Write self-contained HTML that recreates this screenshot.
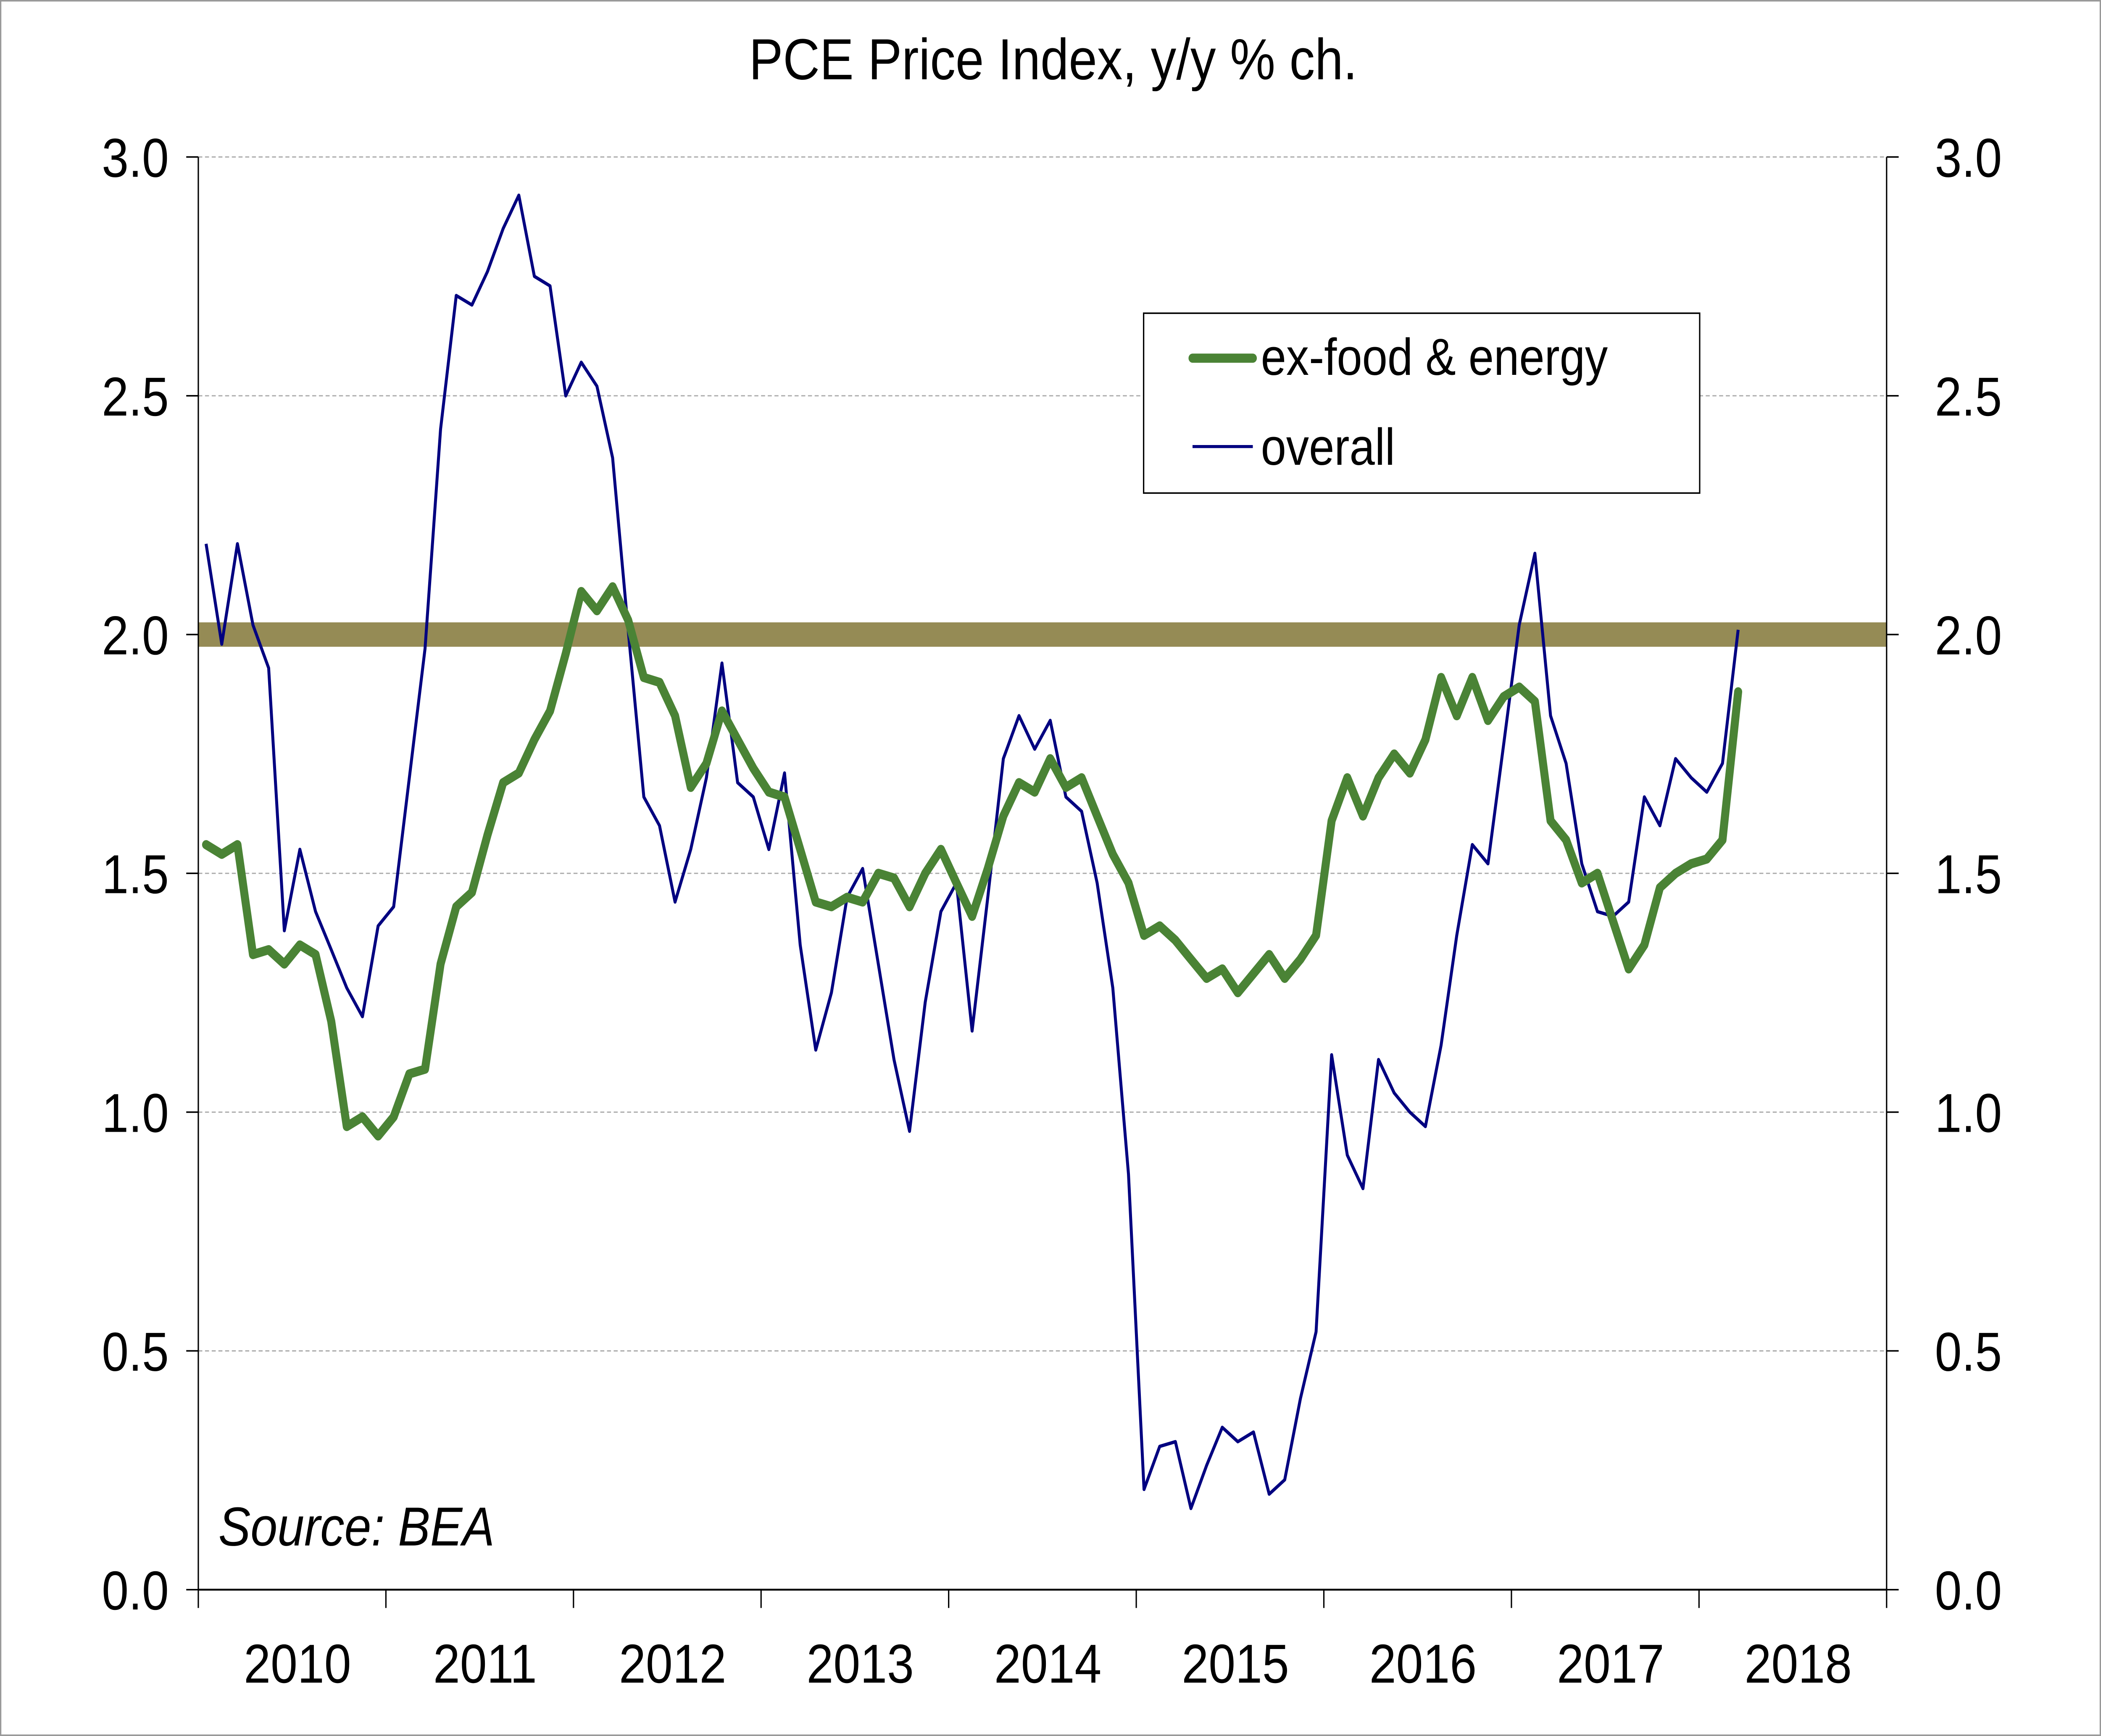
<!DOCTYPE html>
<html><head><meta charset="utf-8"><style>html,body{margin:0;padding:0;background:#fff;overflow:hidden;width:100%;height:100%}svg{display:block;width:100vw;height:100vh}</style></head>
<body>
<svg id="chart" viewBox="0 0 1568 1139" preserveAspectRatio="none" xmlns="http://www.w3.org/2000/svg" font-family="Liberation Sans, sans-serif">
<rect x="0.5" y="0.5" width="1567" height="1138" fill="#fff" stroke="#999" stroke-width="1"/>
<text x="786" y="52" font-size="38" text-anchor="middle">PCE Price Index, y/y % ch.</text>
<g id="grid"></g>
<rect id="target" fill="#958B55"/>
<g id="axes"></g>
<polyline id="overall" fill="none" stroke="#000080" stroke-width="2.2" stroke-linejoin="round"/>
<polyline id="core" fill="none" stroke="#4A8335" stroke-width="6" stroke-linejoin="round" stroke-linecap="round"/>
<g>
<rect x="853.5" y="205.5" width="415" height="118" fill="#fff" stroke="#000" stroke-width="1"/>
<line x1="890" y1="235" x2="935" y2="235" stroke="#4A8335" stroke-width="6" stroke-linecap="round"/>
<text x="941" y="246" font-size="34">ex-food &amp; energy</text>
<line x1="890" y1="293" x2="935" y2="293" stroke="#000080" stroke-width="2"/>
<text x="941" y="305" font-size="34">overall</text>
</g>
<text x="163" y="1014" font-size="36" font-style="italic">Source: BEA</text>
</svg>
<script>
const yTicks=[0,0.5,1.0,1.5,2.0,2.5,3.0];
const yTickLabels=["0.0","0.5","1.0","1.5","2.0","2.5","3.0"];
const years=["2010","2011","2012","2013","2014","2015","2016","2017","2018"];
const targetValue=2.0;
const overall=[2.19,1.98,2.19,2.02,1.93,1.38,1.55,1.42,1.34,1.26,1.20,1.39,
1.43,1.70,1.97,2.43,2.71,2.69,2.76,2.85,2.92,2.75,2.73,2.50,
2.57,2.52,2.37,2.01,1.66,1.60,1.44,1.55,1.70,1.94,1.69,1.66,
1.55,1.71,1.35,1.13,1.25,1.45,1.51,1.31,1.11,0.96,1.23,1.42,
1.48,1.17,1.45,1.74,1.83,1.76,1.82,1.66,1.63,1.48,1.26,0.87,
0.21,0.30,0.31,0.17,0.26,0.34,0.31,0.33,0.20,0.23,0.40,0.54,
1.12,0.91,0.84,1.11,1.04,1.00,0.97,1.14,1.37,1.56,1.52,1.77,
2.02,2.17,1.83,1.73,1.52,1.42,1.41,1.44,1.66,1.60,1.74,1.70,
1.67,1.73,2.01];
const core=[1.56,1.54,1.56,1.33,1.34,1.31,1.35,1.33,1.19,0.97,0.99,0.95,
0.99,1.08,1.09,1.31,1.43,1.46,1.58,1.69,1.71,1.78,1.84,1.96,
2.09,2.05,2.10,2.03,1.91,1.90,1.83,1.68,1.73,1.84,1.78,1.72,
1.67,1.66,1.55,1.44,1.43,1.45,1.44,1.50,1.49,1.43,1.50,1.55,
1.48,1.41,1.51,1.62,1.69,1.67,1.74,1.68,1.70,1.62,1.54,1.48,
1.37,1.39,1.36,1.32,1.28,1.30,1.25,1.29,1.33,1.28,1.32,1.37,
1.61,1.70,1.62,1.70,1.75,1.71,1.78,1.91,1.83,1.91,1.82,1.87,
1.89,1.86,1.61,1.57,1.48,1.50,1.40,1.30,1.35,1.47,1.50,1.52,
1.53,1.57,1.88];
const L=148,R=1408,T=103,B=1043,monthW=140/12;
const xM=i=>L+monthW*(i+0.5);
const yV=v=>B-(v/3)*(B-T);
const NS="http://www.w3.org/2000/svg";
function mk(tag,attrs,parent,txt){const e=document.createElementNS(NS,tag);for(const k in attrs)e.setAttribute(k,attrs[k]);if(txt!==undefined)e.textContent=txt;parent.appendChild(e);return e;}
const grid=document.getElementById('grid'),axes=document.getElementById('axes');
yTicks.forEach((v,i)=>{
  const y=yV(v);
  if(v>0){const g=mk('line',{x1:L,x2:R,y1:y,y2:y,stroke:'#aaa','stroke-width':0.8,'stroke-dasharray':'3,2'},grid);
  
  }
  mk('line',{x1:L-9,x2:L,y1:y,y2:y,stroke:'#000','stroke-width':1},axes);
  mk('line',{x1:R,x2:R+9,y1:y,y2:y,stroke:'#000','stroke-width':1},axes);
  const t1=mk('text',{x:L-22,y:y+13,'font-size':36,'text-anchor':'end'},axes,yTickLabels[i]);
  
  
  const t2=mk('text',{x:R+36,y:y+13,'font-size':36,'text-anchor':'start'},axes,yTickLabels[i]);
  
  
});
mk('line',{x1:L,x2:L,y1:T,y2:B,stroke:'#000','stroke-width':1},axes);
mk('line',{x1:R,x2:R,y1:T,y2:B,stroke:'#000','stroke-width':1},axes);
mk('line',{x1:L,x2:R,y1:B,y2:B,stroke:'#000','stroke-width':1.2},axes);
for(let k=0;k<=years.length;k++){const x=L+k*140;mk('line',{x1:x,x2:x,y1:B,y2:B+12,stroke:'#000','stroke-width':1},axes);}
years.forEach((yr,k)=>{const t=mk('text',{x:L+k*140+74,y:1104,'font-size':36,'text-anchor':'middle'},axes,yr);

});
const tb=document.getElementById('target');
tb.setAttribute('x',L);tb.setAttribute('width',R-L);
tb.setAttribute('y',yV(targetValue)-8);tb.setAttribute('height',16);
document.getElementById('overall').setAttribute('points',overall.map((v,i)=>xM(i).toFixed(1)+','+yV(v).toFixed(1)).join(' '));
document.getElementById('core').setAttribute('points',core.map((v,i)=>xM(i).toFixed(1)+','+yV(v).toFixed(1)).join(' '));
</script>
</body></html>
